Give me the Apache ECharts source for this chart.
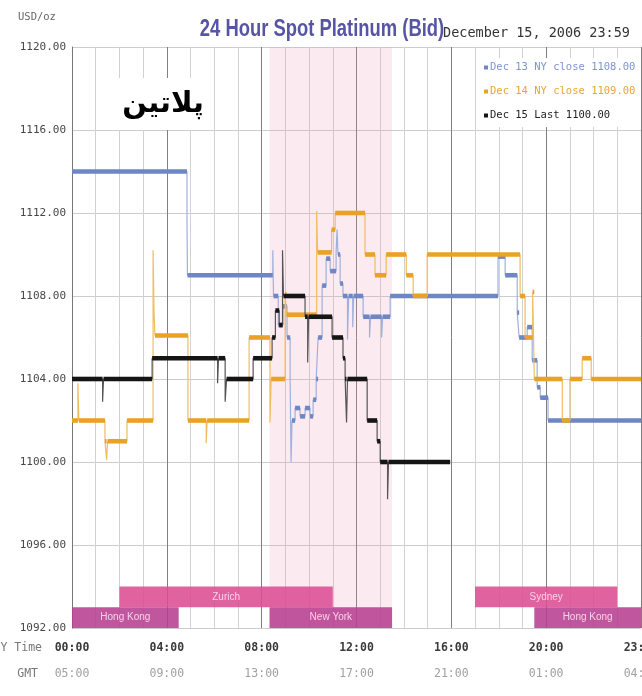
<!DOCTYPE html>
<html>
<head>
<meta charset="utf-8">
<script src="https://cdn.jsdelivr.net/npm/echarts@6/dist/echarts.min.js"></script>
<style>
html,body{margin:0;padding:0;background:#fff;}
#chart{width:642px;height:696px;}
</style>
</head>
<body>
<div id="chart"></div>
<script>
// ---- data (NY time in decimal hours, price USD/oz) ----
const dec13Times  = [0, 4.85, 4.87, 8.47, 8.50, 8.70, 8.90, 9.07, 9.20, 9.24, 9.28, 9.41, 9.62, 9.83, 10.04, 10.17, 10.30, 10.38, 10.55, 10.72, 10.89, 11.14, 11.18, 11.22, 11.31, 11.43, 11.62, 11.67, 11.84, 11.88, 12.28, 12.55, 12.59, 13.06, 13.10, 13.42, 17.97, 18.27, 18.78, 18.86, 19.20, 19.41, 19.62, 19.75, 20.08, 24];
const dec13Values = [1114, 1111.7, 1109, 1110.2, 1108, 1106.6, 1107.5, 1106, 1104, 1100, 1102, 1102.6, 1102.2, 1102.6, 1102.2, 1103, 1104, 1106, 1108.5, 1109.8, 1109.2, 1110.1, 1111.2, 1110, 1108.6, 1108, 1105.9, 1108, 1106.5, 1108, 1107, 1106, 1107, 1106, 1107, 1108, 1109.9, 1109, 1107.2, 1106, 1106.5, 1104.9, 1103.6, 1103.1, 1102, 1102];

const dec14Times  = [0, 0.25, 0.29, 1.39, 1.46, 1.50, 2.32, 3.42, 3.46, 3.50, 4.89, 5.66, 5.70, 7.47, 8.35, 8.40, 8.99, 9.05, 10.32, 10.36, 10.95, 11.10, 12.36, 12.78, 13.25, 14.10, 14.39, 14.98, 18.90, 19.11, 19.43, 19.50, 20.68, 21.00, 21.52, 21.90, 24];
const dec14Values = [1102, 1103.8, 1102, 1101, 1100.1, 1101, 1102, 1110.2, 1107.2, 1106.1, 1102, 1100.9, 1102, 1106, 1101.9, 1104, 1108.1, 1107.1, 1112.1, 1110.1, 1111.2, 1112, 1110, 1109, 1110, 1109, 1108, 1110, 1108, 1106, 1108.2, 1104, 1102, 1104, 1105, 1104, 1104];

const dec15Times  = [0, 1.29, 1.33, 3.38, 6.14, 6.18, 6.46, 6.52, 7.64, 8.44, 8.58, 8.74, 8.88, 8.92, 9.83, 9.94, 9.98, 10.97, 11.43, 11.52, 11.58, 11.62, 12.45, 12.87, 13.00, 13.31, 13.35, 15.95];
const dec15Values = [1104, 1102.9, 1104, 1105, 1103.8, 1105, 1102.9, 1104, 1105, 1106, 1107.3, 1106.6, 1110.2, 1108, 1107, 1104.8, 1107, 1106, 1105, 1104, 1101.9, 1104, 1102, 1101, 1100, 1098.2, 1100, 1100];

const seriesNames = ['Dec 13 NY close 1108.00', 'Dec 14 NY close 1109.00', 'Dec 15 Last 1100.00'];

const nyTickLabels  = ['00:00', '04:00', '08:00', '12:00', '16:00', '20:00', '23:59'];
const gmtTickLabels = ['05:00', '09:00', '13:00', '17:00', '21:00', '01:00', '04:59'];

const nySession = [8.333, 13.5];

const sessionNames = ['Hong Kong', 'Zurich', 'New York', 'Sydney', 'Hong Kong'];
const sessionStart = [0, 2, 8.333, 17, 19.5];
const sessionEnd   = [4.5, 11, 13.5, 23, 24];
const sessionRow   = [0, 1, 0, 1, 0];

// ---- styles ----
const thickColors = ['#6f86c4', '#e9a225', '#151515'];
const thinColors  = ['#9fb0dc', '#efbd62', '#555555'];
const legendColors = ['#7f95d0', '#e8a53a', '#222222'];
const rowColors = ['rgba(183,63,145,0.88)', 'rgba(220,77,147,0.88)'];
const mono = 'DejaVu Sans Mono';

const allTimes = [dec13Times, dec14Times, dec15Times];
const allValues = [dec13Values, dec14Values, dec15Values];

function stepData(t, v) { return t.map((x, i) => [x, v[i]]); }
function segData(t, v) {
  const out = [];
  for (let i = 0; i < t.length - 1; i++) {
    if (t[i + 1] - t[i] >= 0.06) out.push([t[i], t[i + 1], v[i]]);
  }
  return out;
}

const series = [];
series.push({
  type: 'line', name: 'shade', data: [], silent: true, z: 1,
  markArea: {
    silent: true,
    itemStyle: { color: 'rgba(240,150,185,0.2)' },
    data: [[{ coord: [nySession[0], 1092] }, { coord: [nySession[1], 1120] }]]
  }
});
series.push({
  type: 'line', name: 'sessions', data: [], silent: true, z: 3,
  markArea: {
    silent: true,
    label: { show: true, position: 'inside', color: '#f9d2e6', fontFamily: 'Liberation Sans', fontSize: 10 },
    data: sessionNames.map((n, i) => [
      { name: n, coord: [sessionStart[i], 1092 + sessionRow[i]], itemStyle: { color: rowColors[sessionRow[i]] } },
      { coord: [sessionEnd[i], 1093 + sessionRow[i]] }
    ])
  }
});
for (let k = 0; k < 3; k++) {
  series.push({
    type: 'line', name: 'thin' + k, step: 'end', showSymbol: false, symbol: 'none', z: 4 + k,
    data: stepData(allTimes[k], allValues[k]),
    lineStyle: { color: thinColors[k], width: 1.2 },
    itemStyle: { color: thinColors[k] }
  });
  series.push({
    type: 'custom', name: seriesNames[k], z: 5 + k,
    itemStyle: { color: thickColors[k] },
    data: segData(allTimes[k], allValues[k]),
    encode: { x: [0, 1], y: 2 },
    renderItem: function (params, api) {
      const p0 = api.coord([api.value(0), api.value(2)]);
      const p1 = api.coord([api.value(1), api.value(2)]);
      return {
        type: 'rect',
        shape: { x: p0[0], y: p0[1] - 2.3, width: p1[0] - p0[0], height: 4.6 },
        style: { fill: thickColors[k] }
      };
    }
  });
}

const option = {
  animation: false,
  backgroundColor: '#ffffff',
  grid: { left: 72, right: 1, top: 47, bottom: 68, outerBoundsMode: 'none', containLabel: false },
  xAxis: {
    type: 'value', min: 0, max: 24, interval: 4,
    axisLine: { show: false }, axisTick: { show: false },
    splitLine: { show: true, lineStyle: { color: '#7f7f7f', width: 1 } },
    minorTick: { show: false, splitNumber: 4 },
    minorSplitLine: { show: true, lineStyle: { color: '#d2d2d2', width: 1 } },
    axisLabel: {
      showMaxLabel: true, showMinLabel: true, margin: 7,
      formatter: function (v) {
        const i = Math.round(v / 4);
        return '{a|' + nyTickLabels[i] + '}\n{b|' + gmtTickLabels[i] + '}';
      },
      rich: {
        a: { fontFamily: mono, fontSize: 11.5, fontWeight: 'bold', color: '#3a3a3a', lineHeight: 26 },
        b: { fontFamily: mono, fontSize: 11.5, color: '#a0a0a0', lineHeight: 26 }
      }
    }
  },
  yAxis: {
    type: 'value', min: 1092, max: 1120, interval: 4,
    axisLine: { show: true, lineStyle: { color: '#777' } },
    axisTick: { show: false },
    splitLine: { lineStyle: { color: '#cccccc' } },
    axisLabel: { formatter: v => v.toFixed(2), fontFamily: mono, fontSize: 11, color: '#474747', margin: 6 }
  },
  legend: {
    orient: 'vertical', left: 480, top: 58,
    backgroundColor: '#ffffff', padding: [4, 4, 6, 4],
    itemWidth: 4, itemHeight: 4, itemGap: 13,
    selectedMode: false,
    textStyle: { fontFamily: mono, fontSize: 10.5, padding: [0, 0, 0, -3] },
    data: seriesNames.map((n, i) => ({ name: n, icon: 'rect', textStyle: { color: legendColors[i] } }))
  },
  graphic: [
    { type: 'text', left: 18, top: 12, style: { text: 'USD/oz', font: '10.5px "DejaVu Sans Mono"', fill: '#666' } },
    { type: 'text', left: 443, top: 26, style: { text: 'December 15, 2006 23:59', font: '13.5px "DejaVu Sans Mono"', fill: '#333' } },
    { type: 'text', x: 322, y: 30, scaleX: 0.8, style: { text: '24 Hour Spot Platinum (Bid)', font: 'bold 23px "Liberation Sans"', fill: '#5654a4', align: 'center', verticalAlign: 'middle' } },
    { type: 'rect', shape: { x: 112, y: 78, width: 102, height: 52 }, style: { fill: '#ffffff' }, z: 10 },
    { type: 'text', x: 163, y: 104, z: 11, style: { text: 'پلاتین', font: 'bold 29px "DejaVu Sans"', fill: '#000', align: 'center', verticalAlign: 'middle' } },
    { type: 'text', x: 42, y: 648, style: { text: 'NY Time', font: '11.5px "DejaVu Sans Mono"', fill: '#777', align: 'right', verticalAlign: 'middle' } },
    { type: 'text', x: 38, y: 674, style: { text: 'GMT', font: '11.5px "DejaVu Sans Mono"', fill: '#777', align: 'right', verticalAlign: 'middle' } }
  ],
  series: series
};

const chart = echarts.init(document.getElementById('chart'), null, { renderer: 'canvas' });
chart.setOption(option);
</script>
</body>
</html>
